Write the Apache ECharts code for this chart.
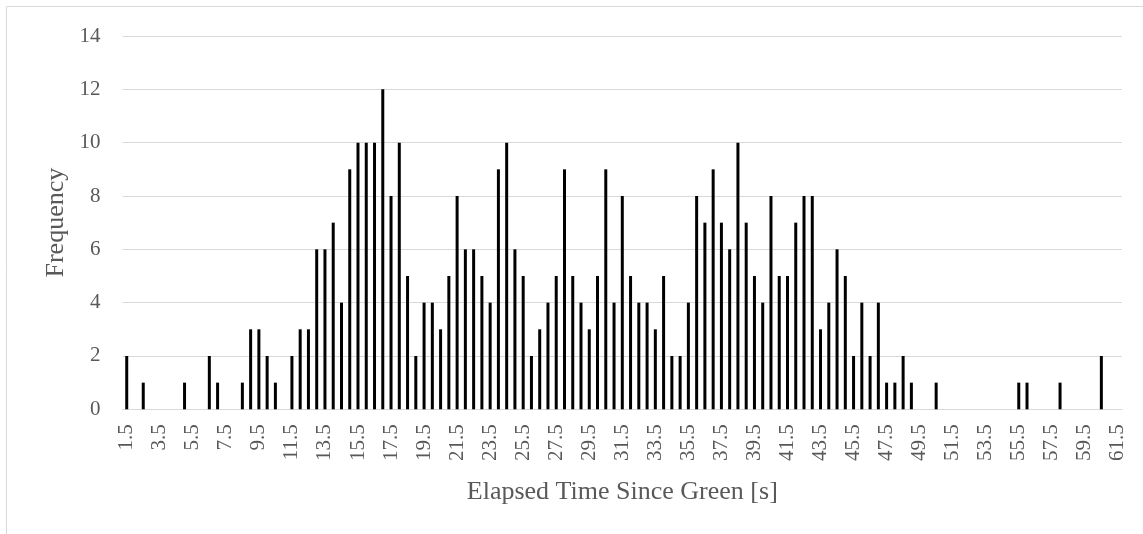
<!DOCTYPE html>
<html>
<head>
<meta charset="utf-8">
<script src="https://cdn.jsdelivr.net/npm/echarts@6/dist/echarts.min.js"></script>
<style>
	html, body { margin: 0; padding: 0; background: #fff; }
	#chart { width: 1143px; height: 534px; }
</style>
</head>
<body>
<div id="chart"></div>
<script>
	// bins of 0.5 s, from 1.5 to 61.5
	var binStart = 1.5;
	var binStep = 0.5;
	var binCount = 121;

	var frequency = [
		2, 0, 1, 0, 0, 0, 0, 1, 0, 0,
		2, 1, 0, 0, 1, 3, 3, 2, 1, 0,
		2, 3, 3, 6, 6, 7, 4, 9, 10, 10,
		10, 12, 8, 10, 5, 2, 4, 4, 3, 5,
		8, 6, 6, 5, 4, 9, 10, 6, 5, 2,
		3, 4, 5, 9, 5, 4, 3, 5, 9, 4,
		8, 5, 4, 4, 3, 5, 2, 2, 4, 8,
		7, 9, 7, 6, 10, 7, 5, 4, 8, 5,
		5, 7, 8, 8, 3, 4, 6, 5, 2, 4,
		2, 4, 1, 1, 2, 1, 0, 0, 1, 0,
		0, 0, 0, 0, 0, 0, 0, 0, 1, 1,
		0, 0, 0, 1, 0, 0, 0, 0, 2, 0,
		0
	];

	var yTicks = { min: 0, max: 14, interval: 2 };

	var categories = [];
	for (var i = 0; i < binCount; i++) {
		categories.push(String(binStart + i * binStep));
	}

	var textColor = '#595959';
	var lineColor = '#d9d9d9';
	var font = '"Liberation Serif", "DejaVu Serif", serif';

	var option = {
		animation : false,
		backgroundColor : '#fff',
		grid : {
			left : 122.6,
			right : 21,
			top : 36,
			bottom : 124.7
		},
		graphic : [ {
			type : 'rect',
			shape : { x : 6.5, y : 6.5, width : 1200, height : 600 },
			style : { fill : null, stroke : lineColor, lineWidth : 1 },
			silent : true
		} ],
		xAxis : {
			type : 'category',
			data : categories,
			name : 'Elapsed Time Since Green [s]',
			nameLocation : 'middle',
			nameGap : 70,
			nameTextStyle : {
				color : textColor,
				fontFamily : font,
				fontSize : 26
			},
			axisLine : { lineStyle : { color : lineColor, width : 1 } },
			axisTick : { show : false },
			axisLabel : {
				interval : 3,
				rotate : 90,
				margin : 15,
				color : textColor,
				fontFamily : font,
				fontSize : 21,
				formatter : function(v) {
					return Number(v).toFixed(1);
				}
			}
		},
		yAxis : {
			type : 'value',
			min : yTicks.min,
			max : yTicks.max,
			interval : yTicks.interval,
			name : 'Frequency',
			nameLocation : 'middle',
			nameGap : 52,
			nameTextStyle : {
				color : textColor,
				fontFamily : font,
				fontSize : 26
			},
			axisLine : { show : false },
			axisTick : { show : false },
			axisLabel : {
				margin : 22,
				color : textColor,
				fontFamily : font,
				fontSize : 21
			},
			splitLine : { lineStyle : { color : lineColor, width : 1 } }
		},
		series : [ {
			type : 'bar',
			data : frequency,
			barWidth : 3,
			itemStyle : { color : '#000' }
		} ]
	};

	var chart = echarts.init(document.getElementById('chart'));
	chart.setOption(option);
</script>
</body>
</html>
